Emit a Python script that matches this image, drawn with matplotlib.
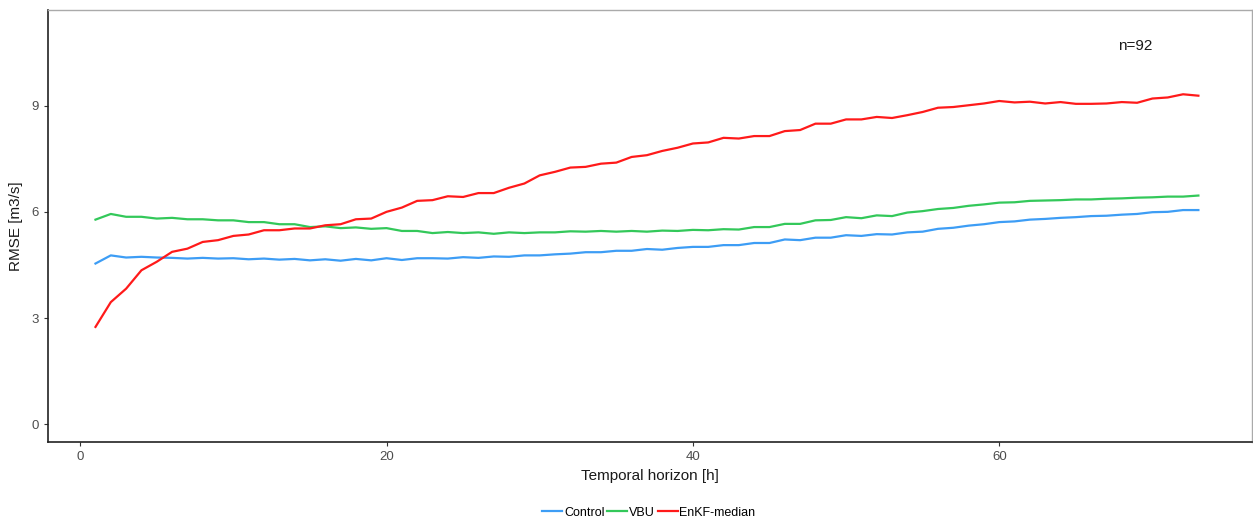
import matplotlib.pyplot as plt
import numpy as np

plt.rcParams['font.family'] = ['Liberation Sans', 'DejaVu Sans']

# lead time in hours
hours = np.arange(1, 74)

control = [4.54, 4.77, 4.71, 4.73, 4.71, 4.70, 4.68, 4.70, 4.68, 4.69,
           4.66, 4.68, 4.65, 4.67, 4.63, 4.66, 4.62, 4.67, 4.63, 4.69,
           4.64, 4.69, 4.69, 4.68, 4.72, 4.70, 4.74, 4.73, 4.77, 4.77,
           4.80, 4.82, 4.86, 4.86, 4.90, 4.90, 4.95, 4.93, 4.98, 5.01,
           5.01, 5.06, 5.06, 5.12, 5.12, 5.22, 5.20, 5.27, 5.27, 5.34,
           5.32, 5.37, 5.36, 5.42, 5.44, 5.52, 5.55, 5.61, 5.65, 5.71,
           5.73, 5.78, 5.80, 5.83, 5.85, 5.88, 5.89, 5.92, 5.94, 5.99,
           6.00, 6.05, 6.05]

vbu = [5.78, 5.94, 5.86, 5.86, 5.81, 5.83, 5.79, 5.79, 5.76, 5.76,
       5.71, 5.71, 5.65, 5.65, 5.57, 5.59, 5.54, 5.56, 5.52, 5.54,
       5.46, 5.46, 5.40, 5.43, 5.40, 5.42, 5.38, 5.42, 5.40, 5.42,
       5.42, 5.45, 5.44, 5.46, 5.44, 5.46, 5.44, 5.47, 5.46, 5.49,
       5.48, 5.51, 5.50, 5.57, 5.57, 5.66, 5.66, 5.76, 5.77, 5.85,
       5.82, 5.90, 5.88, 5.98, 6.02, 6.08, 6.11, 6.17, 6.21, 6.26,
       6.27, 6.31, 6.32, 6.33, 6.35, 6.35, 6.37, 6.38, 6.40, 6.41,
       6.43, 6.43, 6.46]

enkf = [2.75, 3.45, 3.83, 4.35, 4.59, 4.87, 4.96, 5.15, 5.20, 5.32,
        5.36, 5.48, 5.48, 5.53, 5.53, 5.62, 5.65, 5.79, 5.81, 6.00,
        6.12, 6.31, 6.33, 6.44, 6.42, 6.53, 6.53, 6.68, 6.80, 7.03,
        7.13, 7.25, 7.27, 7.36, 7.39, 7.55, 7.60, 7.72, 7.81, 7.93,
        7.96, 8.09, 8.07, 8.14, 8.14, 8.28, 8.31, 8.49, 8.49, 8.61,
        8.61, 8.68, 8.65, 8.73, 8.82, 8.94, 8.96, 9.01, 9.06, 9.13,
        9.09, 9.11, 9.06, 9.10, 9.05, 9.05, 9.06, 9.10, 9.08, 9.20,
        9.23, 9.32, 9.28]

series = [("Control", control, "#3d9df5"),
          ("VBU", vbu, "#33c85a"),
          ("EnKF-median", enkf, "#ff1a1a")]

fig = plt.figure(figsize=(12.53, 5.30), dpi=100)
ax = fig.add_axes([48/1253, 1 - 442/530, 1204/1253, 432/530])

for name, vals, col in series:
    ax.plot(hours, vals, color=col, linewidth=1.6, label=name)

ax.set_xlim(-2.1, 76.5)
ax.set_ylim(-0.5, 11.7)
ax.set_xticks([0, 20, 40, 60])
ax.set_yticks([0, 3, 6, 9])

ax.tick_params(direction='out', length=3, width=0.8, colors='#333333',
               labelcolor='#4d4d4d', labelsize=9.5)
for side in ['left', 'bottom']:
    ax.spines[side].set_color('#222222')
    ax.spines[side].set_linewidth(1.2)
for side in ['top', 'right']:
    ax.spines[side].set_color('#aaaaaa')
    ax.spines[side].set_linewidth(1.0)

ax.set_xlabel('Temporal horizon [h]', fontsize=11, color='#1a1a1a', labelpad=4)
ax.set_ylabel('RMSE [m3/s]', fontsize=11, color='#1a1a1a', labelpad=6)

ax.text(68.9, 10.68, 'n=92', fontsize=11, ha='center', va='center', color='#1a1a1a')

fig.legend(loc='lower center', bbox_to_anchor=(0.518, 0.0), ncol=3, frameon=False,
           fontsize=9, handlelength=1.6, handletextpad=0.15, columnspacing=0.2)

plt.savefig('out.png', dpi=100)
plt.close()
